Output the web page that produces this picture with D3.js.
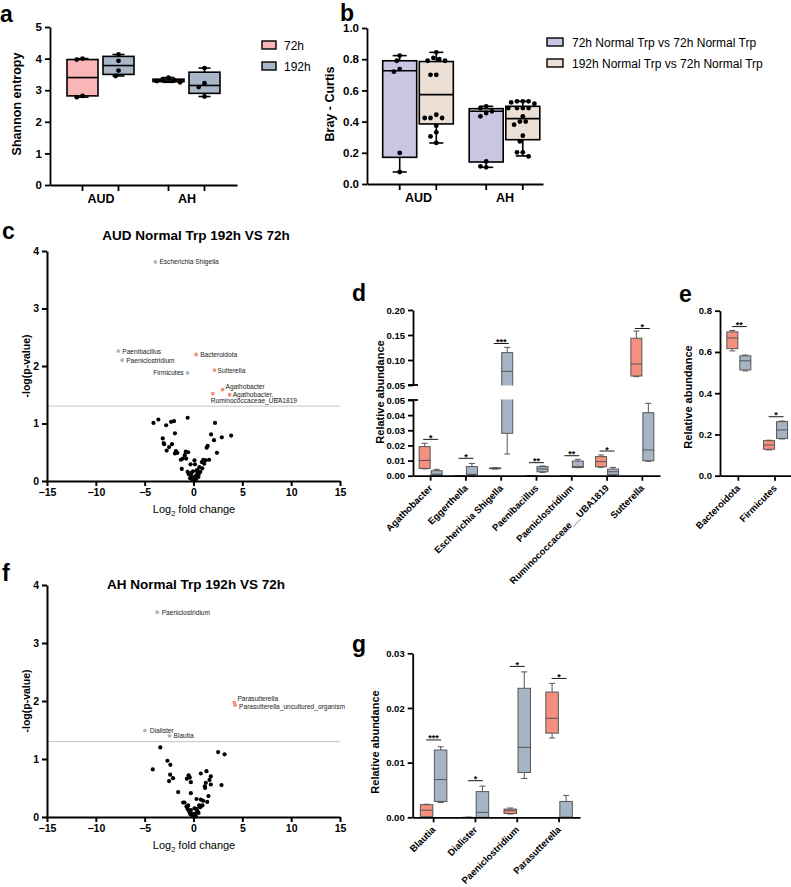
<!DOCTYPE html>
<html><head><meta charset="utf-8">
<script src="https://cdn.jsdelivr.net/npm/d3@7"></script>
<style>
body{margin:0;background:#fff;}
svg{display:block;font-family:"Liberation Sans",Arial,Helvetica,sans-serif;}
</style></head><body>
<svg id="fig" width="791" height="887"></svg>
<script>
// ---------------- DATA ----------------
// Panel a: Shannon entropy, box stats [min,q1,median,q3,max] for AUD, AH
const shannonGroups = ["AUD","AH"];
const timeSeries = ["72h","192h"];
const shannonBox72  = [[2.78,2.82,3.40,3.97,4.00],[3.25,3.27,3.32,3.35,3.40]];
const shannonBox192 = [[3.45,3.50,3.78,4.07,4.13],[2.80,2.90,3.15,3.57,3.70]];
const shannonPts72  = [[4.00,3.97,2.82,2.78],[3.40,3.35,3.31,3.29,3.25]];
const shannonPts192 = [[4.13,3.93,3.62,3.45],[3.70,3.22,3.10,2.80]];

// Panel b: Bray-Curtis
const braySeries = ["72h Normal Trp vs 72h Normal Trp","192h Normal Trp vs 72h Normal Trp"];
const brayBoxWithin  = [[0.077,0.171,0.726,0.790,0.823],[0.107,0.141,0.466,0.483,0.498]];
const brayBoxBetween = [[0.263,0.385,0.573,0.785,0.844],[0.180,0.284,0.419,0.498,0.530]];
const brayPtsWithin  = [[0.823,0.790,0.737,0.720,0.199,0.077],[0.498,0.487,0.466,0.455,0.434,0.145,0.113,0.107]];
const brayPtsBetween = [[0.844,0.808,0.800,0.790,0.790,0.700,0.700,0.444,0.423,0.423,0.423,0.374,0.331,0.305,0.263],
                        [0.530,0.530,0.530,0.523,0.515,0.487,0.487,0.487,0.487,0.434,0.400,0.400,0.380,0.310,0.273,0.203,0.203,0.177]];

// Panel c: volcano AUD (log2FC, -log10 p)
const volcanoCns = [[-4.1,1.01],[-3.6,1.07],[-2.8,0.97],[-2.3,1.03],[-2.0,1.04],[-0.6,1.10],[2.2,1.01],
 [-3.15,0.74],[-3.05,0.66],[-3.0,0.64],[-1.9,0.83],[-2.2,0.64],[-2.5,0.59],[-2.75,0.53],
 [-1.8,0.52],[-1.65,0.49],[-1.9,0.48],[-0.8,0.51],[-0.55,0.50],[-1.3,0.37],[-1.1,0.39],[-1.2,0.21],
 [-0.9,0.45],[-0.75,0.39],[-0.3,0.29],[0.15,0.29],[0.1,0.36],[-0.6,0.16],[-0.5,0.12],
 [1.8,0.81],[2.1,0.71],[2.9,0.76],[3.85,0.79],[1.45,0.61],[1.35,0.58],[2.4,0.49],
 [1.0,0.37],[1.25,0.36],[1.6,0.37],[0.85,0.33],[1.1,0.30],[0.6,0.24],[0.4,0.19],
 [-0.3,0.11],[-0.1,0.07],[0.05,0.04],[0.25,0.09],[0.4,0.13],[-0.15,0.03],[0,0.01],[0.15,0.01],
 [-0.35,0.05],[0.7,0.16],[0.5,0.07],[0.25,0.03],[-0.2,0.14],[0.3,0.18],[0.9,0.22],[-0.05,0.17],[0.55,0.12]];
const volcanoCsigNames = ["Escherichia Shigella","Paenibacillus","Paeniclostridium","Firmicutes","Bacteroidota","Sutterella","Agathobacter","Agathobacter.__","Ruminococcaceae_UBA1819"];
const volcanoCsigX = [-3.9,-7.7,-7.3,-0.6,0.27,2.15,2.97,3.7,1.98];
const volcanoCsigY = [3.81,2.26,2.10,1.88,2.20,1.93,1.59,1.50,1.52];
const volcanoCsigDir = ["down","down","down","down","up","up","up","up","up"];

// Panel f: volcano AH
const volcanoFns = [[-3.4,1.2],[-4.17,0.82],[-2.67,0.97],[-2.37,0.9],[-2.39,0.73],[-2.1,0.67],[-2.5,0.62],[-1.57,0.43],
 [2.52,1.12],[3.18,1.08],[2.87,0.55],[-0.5,0.72],[-0.38,0.68],[-0.68,0.66],[-0.27,0.6],[-0.27,0.41],
 [0.75,0.75],[1.33,0.79],[1.64,0.64],[1.77,0.7],[1.26,0.59],[1.19,0.5],[1.16,0.53],[1.77,0.56],[1.53,0.36],[1.4,0.26],
 [-0.92,0.25],[-1.06,0.25],[-0.72,0.18],[-0.61,0.14],[0.31,0.31],[0.75,0.3],[0.99,0.28],[0.58,0.2],[0.31,0.14],
 [-0.27,0.12],[-0.44,0.09],[-0.17,0.06],[0,0.03],[0.17,0.06],[0.41,0.1],[0.68,0.17],[0.92,0.2],[-0.34,0.05],
 [-0.1,0.01],[0.24,0.01],[0.51,0.07],[-0.55,0.2],[0.1,0.15]];
const volcanoFsigNames = ["Paeniclostridium","Parasutterella","Parasutterella_uncultured_organism","Dialister","Blautia"];
const volcanoFsigX = [-3.72,4.19,4.26,-4.98,-2.45];
const volcanoFsigY = [3.53,1.97,1.93,1.49,1.40];
const volcanoFsigDir = ["down","up","up","down","down"];

// Panel d: relative abundance, [min,q1,median,q3,max]
const dCats = ["Agathobacter","Eggerthella","Escherichia Shigella","Paenibacillus","Paeniclostridium","Ruminococcaceae__UBA1819","Sutterella"];
const d72  = [[0.0045,0.0048,0.0101,0.0192,0.0214],[0,0,0,0,0],[0.0044,0.0046,0.0049,0.0051,0.0053],[0,0,0,0,0],[0,0,0,0,0],[0.0055,0.0059,0.0093,0.0126,0.0137],[0.0667,0.068,0.092,0.1435,0.158]];
const d192 = [[0,0.0004,0.0010,0.0033,0.0042],[0,0.0007,0.0009,0.0060,0.0081],[0.0143,0.028,0.0773,0.1147,0.1253],[0.0022,0.0026,0.0044,0.0060,0.0064],[0.0053,0.0054,0.0060,0.0097,0.0108],[0.0004,0.0007,0.0026,0.0044,0.0055],[0.0095,0.0099,0.017,0.0416,0.0478]];
const dSigLabel = ["*","*","***","**","**","*","*"];
const dSigY = [0.024,0.0115,0.133,0.0086,0.0132,0.0163,0.163];
const dTicksUpper = [0.05,0.10,0.15,0.20];
const dTicksLower = [0.00,0.01,0.02,0.03,0.04,0.05];

// Panel e
const eCats = ["Bacteroidota","Firmicutes"];
const e72  = [[0.605,0.616,0.668,0.697,0.704],[0.125,0.128,0.149,0.170,0.172]];
const e192 = [[0.508,0.513,0.557,0.581,0.585],[0.178,0.181,0.222,0.262,0.265]];
const eSigLabel = ["**","*"];
const eSigY = [0.723,0.286];

// Panel g
const gCats = ["Blautia","Dialister","Paeniclostridium","Parasutterella"];
const g72  = [[0,0.0001,0.0013,0.0023,0.0024],[0,0,0,0,0],[0.0006,0.0007,0.0012,0.0015,0.0017],[0.0145,0.0154,0.0181,0.0229,0.0245]];
const g192 = [[0.0027,0.0029,0.0069,0.0123,0.0129],[0,0,0.0009,0.0047,0.0057],[0.0071,0.0082,0.0128,0.0236,0.0266],[0,0,0,0.0029,0.0040]];
const gSigLabel = ["***","*","*","*"];
const gSigY = [0.01415,0.0067,0.0276,0.0254];

// ---------------- DRAW ----------------
const FONT = '"Liberation Sans", Arial, Helvetica, sans-serif';
const svg = d3.select("#fig");
svg.append("rect").attr("width",791).attr("height",887).attr("fill","#fff");

const C = {pink:"#f9b6b6", blue:"#a9b8c8", purple:"#c9c6e4", beige:"#ecdfd6",
           salmon:"#f4907d", grey:"#a6b5c5", volBlue:"#a9b8c8", volRed:"#f58f7c"};

function letter(t,x,y){
  svg.append("text").attr("x",x).attr("y",y).attr("font-size",23).attr("font-weight","bold")
    .attr("font-family",FONT).text(t);
}
function styleAxis(g,sw,fs){
  g.select(".domain").attr("stroke","#000").attr("stroke-width",sw);
  g.selectAll(".tick line").attr("stroke","#000").attr("stroke-width",sw);
  g.selectAll(".tick text").attr("font-size",fs).attr("font-weight","bold").attr("fill","#000").attr("font-family",FONT);
}
function yLabel(t,x,y,fs,bold){
  svg.append("text").attr("transform",`translate(${x},${y}) rotate(-90)`).attr("text-anchor","middle")
    .attr("font-size",fs).attr("font-weight",bold?"bold":"normal").text(t);
}
function drawBox(g,cx,w,s,y,st){
  const [mn,q1,md,q3,mx]=s;
  const b=g.append("g").attr("stroke",st.stroke).attr("stroke-width",st.sw).attr("fill","none");
  b.append("line").attr("x1",cx).attr("x2",cx).attr("y1",y(mx)).attr("y2",y(q3));
  b.append("line").attr("x1",cx).attr("x2",cx).attr("y1",y(q1)).attr("y2",y(mn));
  b.append("line").attr("x1",cx-st.cap/2).attr("x2",cx+st.cap/2).attr("y1",y(mx)).attr("y2",y(mx));
  b.append("line").attr("x1",cx-st.cap/2).attr("x2",cx+st.cap/2).attr("y1",y(mn)).attr("y2",y(mn));
  b.append("rect").attr("x",cx-w/2).attr("y",y(q3)).attr("width",w).attr("height",Math.max(0,y(q1)-y(q3))).attr("fill",st.fill);
  b.append("line").attr("x1",cx-w/2).attr("x2",cx+w/2).attr("y1",y(md)).attr("y2",y(md));
}
function swarm(vals,y,r,maxOff){
  const placed=[]; const d=2*r+1;
  return vals.map(v=>{
    const py=y(v); let off=0;
    const cands=[0]; for(let k=1;k<8;k++){cands.push(-k*d/2, k*d/2);}
    for(const c of cands){
      if(Math.abs(c)>maxOff) continue;
      if(placed.every(p=>Math.hypot(p[0]-c,p[1]-py)>=d)){off=c;break;}
    }
    placed.push([off,py]); return off;
  });
}
function dots(g,cx,vals,y,r,maxOff){
  const offs=swarm(vals,y,r,maxOff);
  g.selectAll(null).data(vals).join("circle").attr("cx",(v,i)=>cx+offs[i]).attr("cy",v=>y(v)).attr("r",r).attr("fill","#000");
}
function sigBar(g,cx,yv,lab){
  g.append("line").attr("x1",cx-7.5).attr("x2",cx+7.5).attr("y1",yv).attr("y2",yv).attr("stroke","#000").attr("stroke-width",0.9);
  g.append("text").attr("x",cx).attr("y",yv+1.5).attr("text-anchor","middle").attr("font-size",9).attr("font-weight","bold").text(lab);
}

// ---- Panel a ----
letter("a",0,22);
{
  const g=svg.append("g");
  const y=d3.scaleLinear().domain([0,5]).range([185,27]);
  const xg=d3.scalePoint().domain(shannonGroups).range([100.5,186.5]);
  const xs=d3.scalePoint().domain(timeSeries).range([-18,18]);
  const ax=g.append("g").attr("transform","translate(50,0)").call(d3.axisLeft(y).ticks(5).tickSize(5).tickSizeOuter(0).tickPadding(3));
  styleAxis(ax,1.8,11.5);
  const bx=g.append("g").attr("transform","translate(0,185)").call(d3.axisBottom(d3.scaleLinear().range([50,237])).tickValues([]).tickSizeOuter(0));
  styleAxis(bx,1.8,11);
  const lx=g.append("g").attr("transform","translate(0,185)").call(d3.axisBottom(xg).tickSize(0).tickPadding(9));
  lx.select(".domain").remove();
  lx.selectAll("text").attr("font-size",12.5).attr("font-weight","bold").attr("font-family",FONT);
  const boxes=[shannonBox72,shannonBox192], pts=[shannonPts72,shannonPts192], fills=[C.pink,C.blue];
  shannonGroups.forEach((grp,gi)=>timeSeries.forEach((s,si)=>{
    const cx=xg(grp)+xs(s);
    g.append("line").attr("x1",cx).attr("x2",cx).attr("y1",185).attr("y2",191).attr("stroke","#000").attr("stroke-width",1.8);
    drawBox(g,cx,31,boxes[si][gi],y,{stroke:"#000",sw:1.6,fill:fills[si],cap:12});
    dots(g,cx,pts[si][gi],y,2.4,12);
  }));
  yLabel("Shannon entropy",21,104,12.5,true);
  // legend
  timeSeries.forEach((s,i)=>{
    g.append("rect").attr("x",262).attr("y",41+i*21).attr("width",14).attr("height",8).attr("fill",fills[i]).attr("stroke","#000").attr("stroke-width",1.4);
    g.append("text").attr("x",284).attr("y",49.5+i*21).attr("font-size",12).text(s);
  });
}

// ---- Panel b ----
letter("b",340,21);
{
  const g=svg.append("g");
  const y=d3.scaleLinear().domain([0,1]).range([184,28]);
  const xg=d3.scalePoint().domain(shannonGroups).range([418,504.5]);
  const xs=d3.scalePoint().domain(braySeries).range([-18.3,18.3]);
  const ax=g.append("g").attr("transform","translate(367,0)").call(d3.axisLeft(y).ticks(5).tickFormat(d3.format(".1f")).tickSize(5).tickSizeOuter(0).tickPadding(3));
  styleAxis(ax,1.8,11.5);
  const bx=g.append("g").attr("transform","translate(0,184)").call(d3.axisBottom(d3.scaleLinear().range([367,543])).tickValues([]).tickSizeOuter(0));
  styleAxis(bx,1.8,11);
  const lx=g.append("g").attr("transform","translate(0,184)").call(d3.axisBottom(xg).tickSize(0).tickPadding(9));
  lx.select(".domain").remove();
  lx.selectAll("text").attr("font-size",12.5).attr("font-weight","bold").attr("font-family",FONT);
  const boxes=[brayBoxWithin,brayBoxBetween], pts=[brayPtsWithin,brayPtsBetween], fills=[C.purple,C.beige];
  shannonGroups.forEach((grp,gi)=>braySeries.forEach((s,si)=>{
    const cx=xg(grp)+xs(s);
    g.append("line").attr("x1",cx).attr("x2",cx).attr("y1",184).attr("y2",190).attr("stroke","#000").attr("stroke-width",1.8);
    drawBox(g,cx,34,boxes[si][gi],y,{stroke:"#000",sw:1.6,fill:fills[si],cap:14});
    dots(g,cx,pts[si][gi],y,2.4,15);
  }));
  yLabel("Bray - Curtis",334,104,12.5,true);
  braySeries.forEach((s,i)=>{
    g.append("rect").attr("x",547).attr("y",38+i*21).attr("width",16).attr("height",8).attr("fill",fills[i]).attr("stroke","#000").attr("stroke-width",1.4);
    g.append("text").attr("x",572).attr("y",46.5+i*21).attr("font-size",12).text(s);
  });
}

// ---- Volcano helper ----
function volcano(opt){
  const g=svg.append("g");
  const x=d3.scaleLinear().domain([-15,15]).range([47,340]);
  const y=d3.scaleLinear().domain([0,4]).range([opt.yBot,opt.yTop]);
  g.append("line").attr("x1",x(-15)).attr("x2",x(15)).attr("y1",y(-Math.log10(0.05))).attr("y2",y(-Math.log10(0.05)))
    .attr("stroke","#cfcfcf").attr("stroke-width",1.3);
  const ay=g.append("g").attr("transform","translate(47,0)").call(d3.axisLeft(y).ticks(4).tickSize(5).tickSizeOuter(0).tickPadding(3));
  styleAxis(ay,2,10.5);
  const ax=g.append("g").attr("transform",`translate(0,${opt.yBot})`).call(d3.axisBottom(x).tickValues([-15,-10,-5,0,5,10,15]).tickSize(5).tickSizeOuter(0).tickPadding(3));
  styleAxis(ax,2,10.5);
  g.selectAll(null).data(opt.ns).join("circle").attr("cx",d=>x(d[0])).attr("cy",d=>y(d[1])).attr("r",2.1).attr("fill","#000");
  opt.names.forEach((n,i)=>{
    const px=x(opt.sx[i]), py=y(opt.sy[i]);
    g.append("circle").attr("cx",px).attr("cy",py).attr("r",1.9).attr("fill",opt.dir[i]==="up"?C.volRed:C.volBlue);
    const L=opt.layout[i];
    g.append("text").attr("x",px+L[0]).attr("y",py+L[1]).attr("text-anchor",L[2]||"start").attr("font-size",6.6).attr("fill","#222").text(n);
  });
  g.append("text").attr("x",196).attr("y",opt.titleY).attr("text-anchor","middle").attr("font-size",13.5).attr("font-weight","bold").text(opt.title);
  const xl=g.append("text").attr("x",194).attr("y",opt.yBot+32).attr("text-anchor","middle").attr("font-size",11);
  xl.append("tspan").text("Log");
  xl.append("tspan").attr("font-size",7.5).attr("dy",3).text("2");
  xl.append("tspan").attr("dy",-3).text(" fold change");
  yLabel("-log(p-value)",30,(opt.yBot+opt.yTop)/2,10.5,true);
}

letter("c",2,239);
volcano({yTop:251,yBot:481,title:"AUD Normal Trp 192h VS 72h",titleY:240,ns:volcanoCns,
  names:volcanoCsigNames,sx:volcanoCsigX,sy:volcanoCsigY,dir:volcanoCsigDir,
  layout:[[4,2.5],[4,2.5],[4,2.5],[-4,2.5,"end"],[4,2.5],[3,2.5],[3,-0.8],[3,2],[-2,9.5]]});

letter("f",2,581);
volcano({yTop:585,yBot:817,title:"AH Normal Trp 192h VS 72h",titleY:589,ns:volcanoFns,
  names:volcanoFsigNames,sx:volcanoFsigX,sy:volcanoFsigY,dir:volcanoFsigDir,
  layout:[[4.5,2.3],[3,-2.2],[4,4.2],[5,2.3],[4,2.3]]});

// ---- Panel d (broken axis) ----
letter("d",352,301);
{
  const g=svg.append("g");
  const yU=d3.scaleLinear().domain([0.05,0.20]).range([385,310]);
  const yL=d3.scaleLinear().domain([0,0.05]).range([475.7,400]);
  const yP=v=>v<=0.05?yL(v):yU(v);
  const x=d3.scaleBand().domain(dCats).range([413,660]);
  const defs=svg.append("defs");
  defs.append("clipPath").attr("id","clipU").append("rect").attr("x",400).attr("y",300).attr("width",300).attr("height",85.5);
  defs.append("clipPath").attr("id","clipL").append("rect").attr("x",400).attr("y",399.5).attr("width",300).attr("height",82);
  const gU=g.append("g").attr("clip-path","url(#clipU)");
  const gL=g.append("g").attr("clip-path","url(#clipL)");
  const fills=[C.salmon,C.grey], offs=[-6,6];
  [d72,d192].forEach((arr,si)=>arr.forEach((s,i)=>{
    const cx=x(dCats[i])+x.bandwidth()/2+offs[si];
    const st={stroke:"#555",sw:1,fill:fills[si],cap:6};
    if(s[4]>0.05) drawBox(gU,cx,11,s,yU,st);
    if(s[0]<0.05) drawBox(gL,cx,11,s,yL,st);
  }));
  const au=g.append("g").attr("transform","translate(413,0)").call(d3.axisLeft(yU).tickValues(dTicksUpper).tickFormat(d3.format(".2f")).tickSize(5).tickSizeOuter(0).tickPadding(3));
  styleAxis(au,1.8,9.5);
  const al=g.append("g").attr("transform","translate(413,0)").call(d3.axisLeft(yL).tickValues(dTicksLower).tickFormat(d3.format(".2f")).tickSize(5).tickSizeOuter(0).tickPadding(3));
  styleAxis(al,1.8,9.5);
  [yU(0.05),yL(0.05)].forEach(yy=>g.append("line").attr("x1",408).attr("x2",418).attr("y1",yy).attr("y2",yy).attr("stroke","#000").attr("stroke-width",1.8));
  const ax=g.append("g").attr("transform","translate(0,475.7)").call(d3.axisBottom(x).tickSize(5).tickSizeOuter(0));
  styleAxis(ax,1.8,9.5);
  ax.selectAll(".tick text").attr("x",0).attr("y",0).attr("dy",0).attr("text-anchor","end").attr("transform","translate(2.5,13) rotate(-45)");
  dCats.forEach((c,i)=>sigBar(g,x(c)+x.bandwidth()/2,yP(dSigY[i]),dSigLabel[i]));
  yLabel("Relative abundance",384,392,11,true);
}

// ---- Panel e ----
letter("e",679,302);
{
  const g=svg.append("g");
  const y=d3.scaleLinear().domain([0,0.8]).range([475.7,310.7]);
  const x=d3.scaleBand().domain(eCats).range([720,793.4]);
  const fills=[C.salmon,C.grey], offs=[-6,7];
  [e72,e192].forEach((arr,si)=>arr.forEach((s,i)=>{
    const cx=x(eCats[i])+x.bandwidth()/2+offs[si];
    drawBox(g,cx,11,s,y,{stroke:"#555",sw:1,fill:fills[si],cap:6});
  }));
  const ay=g.append("g").attr("transform","translate(720,0)").call(d3.axisLeft(y).ticks(4).tickFormat(d3.format(".1f")).tickSize(5).tickSizeOuter(0).tickPadding(3));
  styleAxis(ay,1.8,9.5);
  const ax=g.append("g").attr("transform","translate(0,475.7)").call(d3.axisBottom(x).tickSize(5).tickSizeOuter(0));
  styleAxis(ax,1.8,9.5);
  ax.selectAll(".tick text").attr("x",0).attr("y",0).attr("dy",0).attr("text-anchor","end").attr("transform","translate(2.5,13) rotate(-45)");
  eCats.forEach((c,i)=>sigBar(g,x(c)+x.bandwidth()/2+1,y(eSigY[i]),eSigLabel[i]));
  yLabel("Relative abundance",692,397,11,true);
}

// ---- Panel g ----
letter("g",352,652);
{
  const g=svg.append("g");
  const y=d3.scaleLinear().domain([0,0.03]).range([817.3,653.3]);
  const x=d3.scaleBand().domain(gCats).range([412.7,580]);
  const fills=[C.salmon,C.grey], offs=[-7,7];
  [g72,g192].forEach((arr,si)=>arr.forEach((s,i)=>{
    const cx=x(gCats[i])+x.bandwidth()/2+offs[si];
    drawBox(g,cx,12.5,s,y,{stroke:"#555",sw:1,fill:fills[si],cap:6});
  }));
  const ay=g.append("g").attr("transform","translate(412.7,0)").call(d3.axisLeft(y).tickValues([0,0.01,0.02,0.03]).tickFormat(d3.format(".2f")).tickSize(5).tickSizeOuter(0).tickPadding(3));
  styleAxis(ay,1.8,9.5);
  const ax=g.append("g").attr("transform","translate(0,817.3)").call(d3.axisBottom(x).tickSize(5).tickSizeOuter(0));
  styleAxis(ax,1.8,9.5);
  ax.selectAll(".tick text").attr("x",0).attr("y",0).attr("dy",0).attr("text-anchor","end").attr("transform","translate(2.5,13) rotate(-45)");
  gCats.forEach((c,i)=>sigBar(g,x(c)+x.bandwidth()/2,y(gSigY[i]),gSigLabel[i]));
  yLabel("Relative abundance",379,742,11,true);
}
</script>
</body></html>
